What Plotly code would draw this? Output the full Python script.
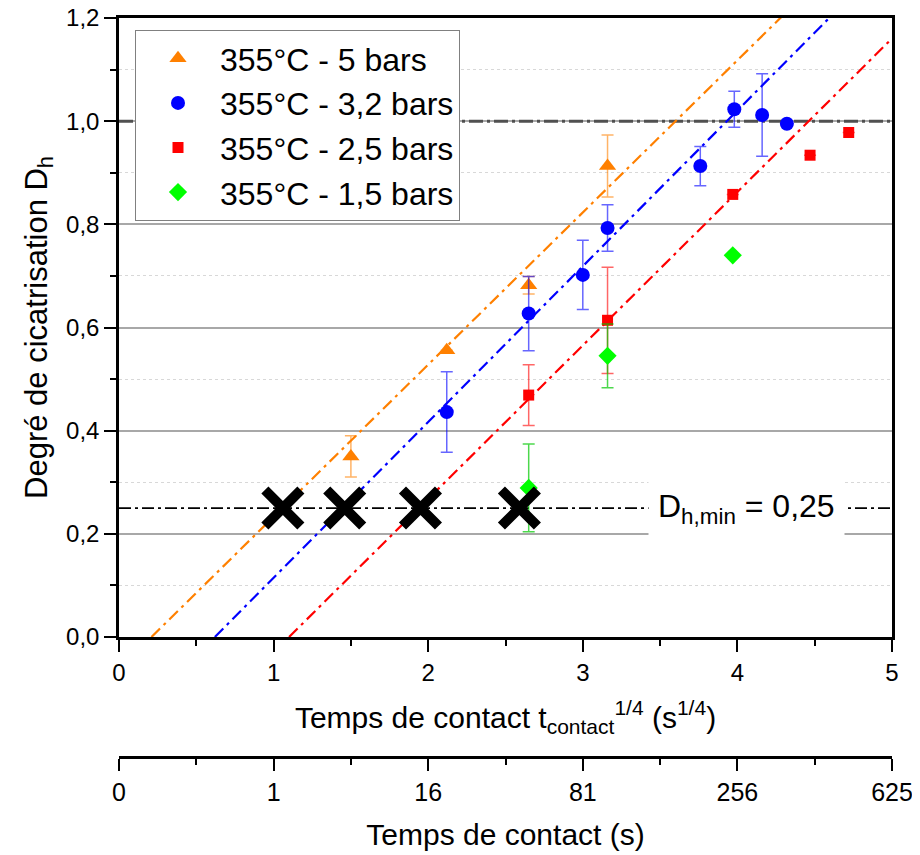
import plotly.graph_objects as go

# ---------------- data ----------------
series_names = ["355°C - 5 bars", "355°C - 3,2 bars", "355°C - 2,5 bars", "355°C - 1,5 bars"]

x_5bars = [1.50, 2.12, 2.65, 3.16]
y_5bars = [0.350, 0.556, 0.682, 0.913]
e_5bars = [0.040, 0.0, 0.017, 0.060]

x_32bars = [2.12, 2.65, 3.00, 3.16, 3.76, 3.98, 4.16, 4.32]
y_32bars = [0.436, 0.627, 0.702, 0.793, 0.913, 1.023, 1.012, 0.995]
e_32bars = [0.078, 0.072, 0.067, 0.045, 0.038, 0.035, 0.080, 0.0]

x_25bars = [2.65, 3.16, 3.97, 4.47, 4.72]
y_25bars = [0.469, 0.614, 0.858, 0.934, 0.978]
e_25bars = [0.059, 0.103, 0.0, 0.0, 0.0]

x_15bars = [2.65, 3.16, 3.97]
y_15bars = [0.289, 0.545, 0.740]
e_15bars = [0.085, 0.062, 0.0]

# linear fits: x-intercept and slope
fit_x0 = [0.21, 0.62, 1.10]
fit_slope = [0.295, 0.302, 0.2975]

# failed (no healing) trials at D_h,min
x_fail = [1.06, 1.46, 1.95, 2.59]
d_h_min = 0.25
d_h_max = 1.0

x_ticks = [0, 1, 2, 3, 4, 5]
x2_ticktext = ["0", "1", "16", "81", "256", "625"]

# ---------------- styles ----------------
colors = ["#FF8000", "#0000FF", "#FF0000", "#00FF00"]
err_colors = ["rgba(255,128,0,0.6)", "rgba(0,0,255,0.6)", "rgba(255,0,0,0.6)", "rgba(0,200,0,0.7)"]
symbols = ["triangle-up", "circle", "square", "diamond"]
sizes = [15, 14, 11, 14]
FONT = "Arial, Liberation Sans, sans-serif"

W, H = 912, 847          # page body has an 8px margin
L, R, T, B = 111, 28, 10, 98
paper_h = H - T - B
plot_bottom = 629        # figure px of y=0
y_dom0 = (H - B - plot_bottom) / paper_h

fig = go.Figure()

# reference horizontal lines
fig.add_trace(go.Scatter(x=[0, 5], y=[d_h_max, d_h_max], mode="lines",
                         line=dict(color="#505050", width=3, dash="14px,4px,3px,4px"),
                         showlegend=False, hoverinfo="skip"))
fig.add_trace(go.Scatter(x=[0, 5], y=[d_h_min, d_h_min], mode="lines",
                         line=dict(color="black", width=1.8, dash="12px,4px,3px,4px"),
                         showlegend=False, hoverinfo="skip"))

# fit lines
for x0, s, c in zip(fit_x0, fit_slope, colors[:3]):
    xe = 5.0
    fig.add_trace(go.Scatter(x=[x0, xe], y=[0, s * (xe - x0)], mode="lines",
                             line=dict(color=c, width=2.2, dash="12px,5px,3px,5px"),
                             showlegend=False, hoverinfo="skip"))

# data series
all_x = [x_5bars, x_32bars, x_25bars, x_15bars]
all_y = [y_5bars, y_32bars, y_25bars, y_15bars]
all_e = [e_5bars, e_32bars, e_25bars, e_15bars]
for name, xs, ys, es, c, ec, sym, sz in zip(series_names, all_x, all_y, all_e,
                                           colors, err_colors, symbols, sizes):
    fig.add_trace(go.Scatter(
        x=xs, y=ys, mode="markers", name=name,
        marker=dict(color=c, symbol=sym, size=sz, line=dict(width=0)),
        error_y=dict(type="data", array=es, visible=True, color=ec, thickness=1.5, width=6),
    ))

# big crosses
fig.add_trace(go.Scatter(x=x_fail, y=[d_h_min] * len(x_fail), mode="markers",
                         marker=dict(symbol="x-thin-open", size=36, color="black",
                                     line=dict(color="black", width=10)),
                         showlegend=False, hoverinfo="skip"))

# dummy trace for the secondary x axis
fig.add_trace(go.Scatter(x=[0, 5], y=[None, None], xaxis="x2", yaxis="y",
                         mode="markers", showlegend=False, hoverinfo="skip"))

fig.add_annotation(x=4.06, y=d_h_min, xref="x", yref="y",
                   text="D<sub>h,min</sub> = 0,25", showarrow=False,
                   font=dict(family=FONT, size=32, color="black"),
                   bgcolor="white", borderpad=9)

fig.update_layout(
    width=W, height=H,
    margin=dict(l=L, r=R, t=T, b=B, autoexpand=False),
    paper_bgcolor="white", plot_bgcolor="white",
    separators=", ",
    font=dict(family=FONT, color="black"),
    showlegend=True,
    legend=dict(x=(127 - L) / (W - L - R), y=(H - B - 22) / paper_h, xanchor="left", yanchor="top",
                bgcolor="white", bordercolor="#808080", borderwidth=1,
                font=dict(family=FONT, size=32), itemwidth=74,
                tracegroupgap=0),
    xaxis=dict(range=[0, 5], tickvals=x_ticks, ticks="outside", ticklen=12, tickwidth=2,
               tickcolor="black", showline=True, linewidth=2.5, linecolor="black",
               mirror=True, showgrid=False, zeroline=False, automargin=False,
               ticklabeloverflow="allow", tickfont=dict(size=24),
               minor=dict(dtick=0.5, ticks="outside", ticklen=6, tickwidth=2, tickcolor="black"),
               title=dict(text="Temps de contact t<sub>contact</sub><sup>1/4</sup> (s<sup>1/4</sup>)",
                          font=dict(size=30), standoff=23),
               anchor="y"),
    xaxis2=dict(range=[0, 5], tickvals=x_ticks, ticktext=x2_ticktext, overlaying="x",
                anchor="free", position=0, side="bottom", automargin=False,
                ticklabeloverflow="allow",
                ticks="outside", ticklen=12, tickwidth=2, tickcolor="black",
                showline=True, linewidth=2.5, linecolor="black", showgrid=False, zeroline=False,
                tickfont=dict(size=25),
                minor=dict(dtick=0.5, ticks="outside", ticklen=6, tickwidth=2, tickcolor="black"),
                title=dict(text="Temps de contact (s)", font=dict(size=30), standoff=19)),
    yaxis=dict(range=[0, 1.2], dtick=0.2, tickformat=".1f", domain=[y_dom0, 1],
               ticks="outside", ticklen=12, tickwidth=2, tickcolor="black",
               showline=True, linewidth=2.5, linecolor="black", mirror=True,
               showgrid=True, gridcolor="#A8A8A8", gridwidth=1.5, zeroline=False,
               automargin=False, ticklabeloverflow="allow", tickfont=dict(size=24),
               minor=dict(dtick=0.1, ticks="outside", ticklen=6, tickwidth=2, tickcolor="black",
                          showgrid=True, gridcolor="#D8D8D8", griddash="dot", gridwidth=1.2),
               title=dict(text="Degré de cicatrisation D<sub>h</sub>", font=dict(size=31), standoff=10)),
)

fig.write_html("out.html")
